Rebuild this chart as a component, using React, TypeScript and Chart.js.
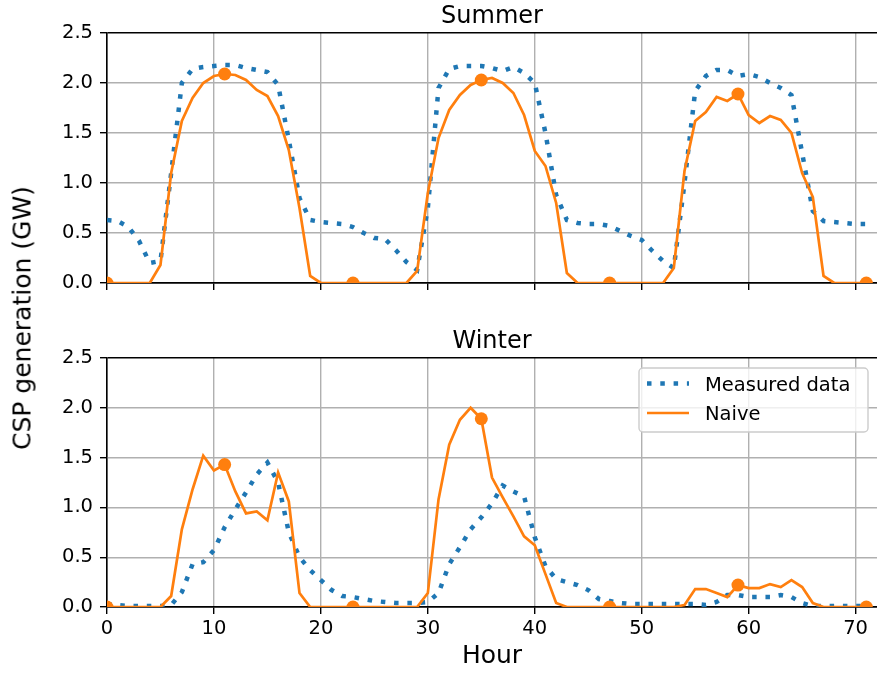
import React, { useEffect, useRef } from "react";
import { Chart, registerables } from "chart.js";

Chart.register(...registerables);

// ---- data (GW, hourly, hours 0..71) ----
const summerMeasured = [
  0.63, 0.62, 0.56, 0.42, 0.2, 0.22, 1.1, 2.0, 2.14, 2.16, 2.17, 2.18,
  2.18, 2.15, 2.13, 2.11, 1.98, 1.43, 0.85, 0.63, 0.61, 0.6, 0.59, 0.56,
  0.5, 0.45, 0.44, 0.33, 0.21, 0.13, 0.75, 1.95, 2.14, 2.17, 2.17, 2.17,
  2.15, 2.12, 2.16, 2.1, 2.0, 1.5, 0.88, 0.63, 0.6, 0.59, 0.59, 0.57,
  0.52, 0.47, 0.43, 0.32, 0.22, 0.15, 1.0, 1.92, 2.07, 2.13, 2.13, 2.07,
  2.09, 2.06, 2.0, 1.95, 1.88, 1.3, 0.72, 0.62, 0.61, 0.6, 0.59, 0.59,
];
const summerNaive = [
  0, 0, 0, 0, 0, 0.18, 1.1, 1.62, 1.85, 2.0, 2.07, 2.09,
  2.08, 2.03, 1.93, 1.87, 1.67, 1.33, 0.75, 0.07, 0, 0, 0, 0,
  0, 0, 0, 0, 0, 0.12, 0.9, 1.45, 1.73, 1.88, 1.98, 2.03,
  2.05, 2.0, 1.9, 1.68, 1.32, 1.17, 0.8, 0.1, 0, 0, 0, 0,
  0, 0, 0, 0, 0, 0.15, 1.12, 1.62, 1.71, 1.86, 1.82, 1.89,
  1.68, 1.6, 1.67, 1.63, 1.5, 1.1, 0.86, 0.07, 0, 0, 0, 0,
];
const winterMeasured = [
  0.03, 0.02, 0.01, 0.01, 0.01, 0.01, 0.02, 0.15, 0.43, 0.45, 0.57, 0.8,
  0.98, 1.15, 1.33, 1.45, 1.25, 0.75, 0.5, 0.37, 0.27, 0.17, 0.11, 0.1,
  0.08, 0.06, 0.05, 0.04, 0.04, 0.04, 0.05, 0.14, 0.43, 0.6, 0.78, 0.9,
  1.04, 1.22, 1.16, 1.11, 0.7, 0.41, 0.28, 0.25, 0.22, 0.17, 0.08, 0.06,
  0.04, 0.03, 0.03, 0.03, 0.03, 0.03, 0.03, 0.03, 0.02, 0.05, 0.12, 0.12,
  0.1, 0.1, 0.1, 0.12, 0.1, 0.04, 0.01, 0.01, 0.01, 0.01, 0.01, 0.01,
];
const winterNaive = [
  0, 0, 0, 0, 0, 0, 0.11, 0.78, 1.18, 1.52, 1.37, 1.43,
  1.16, 0.94, 0.96, 0.87, 1.35, 1.06, 0.14, 0, 0, 0, 0, 0,
  0, 0, 0, 0, 0, 0, 0.14, 1.08, 1.63, 1.88, 2.0, 1.89,
  1.3, 1.1, 0.91, 0.71, 0.62, 0.33, 0.04, 0, 0, 0, 0, 0,
  0, 0, 0, 0, 0, 0, 0.02, 0.18, 0.18, 0.14, 0.1, 0.22,
  0.19, 0.19, 0.23, 0.2, 0.27, 0.2, 0.04, 0, 0, 0, 0, 0,
];
const markerHours = [0, 11, 23, 35, 47, 59, 71];
const xTicks = [0, 10, 20, 30, 40, 50, 60, 70];
const yTicks = [0, 0.5, 1.0, 1.5, 2.0, 2.5];
const seriesNames = ["Measured data", "Naive"];
const panelTitles = ["Summer", "Winter"];
const xLabel = "Hour";
const yLabel = "CSP generation (GW)";

// ---- styles ----
const FONT = "'DejaVu Sans', sans-serif";
const BLUE = "#1f77b4";
const ORANGE = "#ff7f0e";
const GRID = "#b0b0b0";
const SPINE = "#000000";
const TICK_SIZE = 19.5;
const DOT_DASH = [4.5, 8.8];

const panelTitlePlugin = {
  id: "panelTitle",
  afterDraw(chart: any, _args: any, opts: any) {
    const { ctx, chartArea } = chart;
    ctx.save();
    ctx.font = `24px ${FONT}`;
    ctx.fillStyle = "#000";
    ctx.textAlign = "center";
    ctx.textBaseline = "alphabetic";
    ctx.fillText(opts.text, (chartArea.left + chartArea.right) / 2, chartArea.top - 10.5);
    ctx.restore();
  },
};

const mplLegendPlugin = {
  id: "mplLegend",
  afterDatasetsDraw(chart: any) {
    const { ctx, chartArea } = chart;
    const w = 229;
    const h = 64;
    const left = chartArea.right - 9 - w;
    const top = chartArea.top + 10;
    ctx.save();
    ctx.beginPath();
    ctx.roundRect(left, top, w, h, 4);
    ctx.fillStyle = "rgba(255,255,255,0.8)";
    ctx.fill();
    ctx.lineWidth = 1.4;
    ctx.strokeStyle = "#cccccc";
    ctx.stroke();
    const rows = [top + 15.5, top + 45];
    const ds = chart.data.datasets;
    rows.forEach((ry: number, i: number) => {
      const d = ds[i];
      ctx.beginPath();
      ctx.setLineDash(d.borderDash || []);
      ctx.lineCap = "butt";
      ctx.lineWidth = d.borderWidth;
      ctx.strokeStyle = d.borderColor;
      ctx.moveTo(left + 8, ry);
      ctx.lineTo(left + 50, ry);
      ctx.stroke();
      ctx.setLineDash([]);
      ctx.fillStyle = "#000";
      ctx.font = `${TICK_SIZE}px ${FONT}`;
      ctx.textAlign = "left";
      ctx.textBaseline = "alphabetic";
      ctx.fillText(d.label, left + 66, ry + 7.3);
    });
    ctx.restore();
  },
};

function makeConfig(measured: number[], naive: number[], title: string, bottomPanel: boolean): any {
  const tickFont = { family: FONT, size: TICK_SIZE };
  return {
    type: "line",
    data: {
      datasets: [
        {
          label: seriesNames[0],
          data: measured.map((v, i) => ({ x: i, y: v })),
          borderColor: BLUE,
          backgroundColor: BLUE,
          borderWidth: 4.5,
          borderDash: DOT_DASH,
          pointRadius: 0,
          tension: 0,
          fill: false,
          order: 1,
          clip: 0,
        },
        {
          label: seriesNames[1],
          data: naive.map((v, i) => ({ x: i, y: v })),
          borderColor: ORANGE,
          backgroundColor: ORANGE,
          borderWidth: 2.7,
          pointRadius: (c: any) => (markerHours.includes(c.dataIndex) ? 6.5 : 0),
          pointBackgroundColor: ORANGE,
          pointBorderWidth: 0,
          tension: 0,
          fill: false,
          order: 0,
          clip: 0,
        },
      ],
    },
    options: {
      animation: false,
      responsive: false,
      devicePixelRatio: 1,
      events: [],
      layout: { autoPadding: false, padding: { top: 33, left: 0, right: 0, bottom: 0 } },
      plugins: {
        legend: { display: false },
        tooltip: { enabled: false },
        title: { display: false },
        panelTitle: { text: title },
      },
      scales: {
        x: {
          type: "linear",
          min: 0,
          max: 72,
          afterBuildTicks: (s: any) => {
            s.ticks = xTicks.map((v) => ({ value: v }));
          },
          ticks: {
            display: bottomPanel,
            color: "#000",
            font: tickFont,
            padding: 3,
            maxRotation: 0,
            autoSkip: false,
            callback: (v: any) => String(v),
          },
          grid: {
            color: (c: any) => (c.tick && c.tick.value === 0 ? SPINE : GRID),
            lineWidth: 1.4,
            drawTicks: true,
            tickLength: 7,
            tickColor: SPINE,
            tickWidth: 1.4,
          },
          border: { display: true, color: SPINE, width: 1.4 },
          title: {
            display: bottomPanel,
            text: xLabel,
            color: "#000",
            font: { family: FONT, size: 25 },
            padding: { top: 0, bottom: 2 },
          },
          afterFit: (s: any) => {
            s.height = bottomPanel ? 66 : 10;
            s.paddingLeft = 0;
            s.paddingRight = 0;
          },
        },
        y: {
          type: "linear",
          min: 0,
          max: 2.5,
          afterBuildTicks: (s: any) => {
            s.ticks = yTicks.map((v) => ({ value: v }));
          },
          ticks: {
            color: "#000",
            font: tickFont,
            padding: 7,
            callback: (v: any) => Number(v).toFixed(1),
          },
          grid: {
            color: (c: any) =>
              c.tick && (c.tick.value === 2.5 || c.tick.value === 0) ? SPINE : GRID,
            lineWidth: 1.4,
            drawTicks: true,
            tickLength: 7,
            tickColor: SPINE,
            tickWidth: 1.4,
          },
          border: { display: true, color: SPINE, width: 1.4 },
          afterFit: (s: any) => {
            s.width = 107;
            s.paddingTop = 0;
            s.paddingBottom = 0;
          },
        },
      },
    },
    plugins: bottomPanel ? [panelTitlePlugin, mplLegendPlugin] : [panelTitlePlugin],
  };
}

export default function App() {
  const refA = useRef<HTMLCanvasElement>(null);
  const refB = useRef<HTMLCanvasElement>(null);

  useEffect(() => {
    document.body.style.margin = "0";
    const a = new Chart(refA.current as HTMLCanvasElement, makeConfig(summerMeasured, summerNaive, panelTitles[0], false));
    const b = new Chart(refB.current as HTMLCanvasElement, makeConfig(winterMeasured, winterNaive, panelTitles[1], true));
    return () => {
      a.destroy();
      b.destroy();
    };
  }, []);

  return (
    <div style={{ position: "relative", width: 877, height: 673, background: "#fff", overflow: "hidden" }}>
      <canvas ref={refA} width={877} height={293} style={{ position: "absolute", left: 0, top: 0 }} />
      <canvas ref={refB} width={877} height={348} style={{ position: "absolute", left: 0, top: 325 }} />
      <div
        style={{
          position: "absolute",
          left: 22,
          top: 318,
          transform: "translate(-50%, -50%) rotate(-90deg)",
          fontFamily: FONT,
          fontSize: 25,
          lineHeight: "25px",
          whiteSpace: "nowrap",
          color: "#000",
        }}
      >
        {yLabel}
      </div>
    </div>
  );
}
